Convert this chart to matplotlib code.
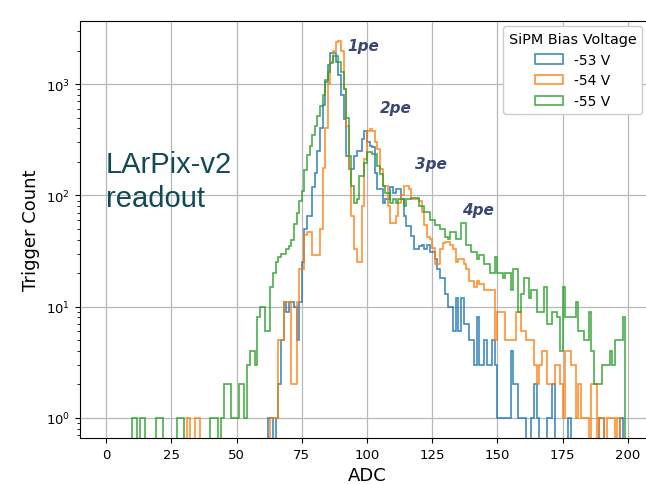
import numpy as np
import matplotlib
matplotlib.use("Agg")
import matplotlib.pyplot as plt

# bin edges: 1 ADC wide bins from 0 to 200
adc_edges = np.arange(0, 201)

# counts per ADC bin (index = ADC value)
counts_53v = [
    0, 0, 0, 0, 0, 0, 0, 0, 0, 0,
    0, 0, 0, 0, 0, 0, 0, 0, 0, 0,
    0, 0, 0, 0, 0, 0, 0, 0, 0, 0,
    0, 0, 0, 0, 0, 0, 0, 0, 0, 0,
    0, 0, 0, 0, 0, 0, 0, 0, 0, 0,
    0, 0, 0, 0, 0, 0, 0, 0, 0, 0,
    0, 0, 1, 1, 0, 1, 2, 5, 11, 9,
    11, 11, 10, 5, 11, 25, 50, 65, 65, 120,
    160, 250, 400, 650, 1050, 1500, 1900, 1900, 1600, 1200,
    800, 485, 227, 172, 172, 227, 250, 250, 320, 380,
    300, 280, 270, 160, 114, 114, 86, 93, 93, 118,
    106, 114, 114, 93, 66, 53, 53, 43, 33, 33,
    35, 36, 33, 36, 31, 31, 27, 22, 18, 18,
    13, 10, 10, 6, 12, 6, 12, 7, 7, 5,
    5, 3, 8, 3, 3, 5, 3, 3, 5, 3,
    1, 1, 1, 1, 1, 4, 2, 2, 1, 1,
    1, 0, 0, 1, 2, 1, 0, 0, 0, 1,
    1, 2, 0, 0, 0, 0, 0, 1, 0, 0,
    0, 0, 0, 0, 0, 0, 0, 0, 0, 1,
    1, 0, 0, 0, 0, 0, 0, 1, 0, 0,
]

counts_54v = [
    0, 0, 0, 0, 0, 0, 0, 0, 0, 0,
    0, 0, 0, 0, 0, 0, 0, 0, 0, 0,
    0, 0, 0, 0, 0, 0, 0, 0, 0, 0,
    0, 1, 0, 0, 1, 1, 0, 0, 0, 0,
    0, 0, 0, 0, 0, 0, 0, 0, 0, 0,
    0, 0, 0, 0, 0, 0, 0, 0, 0, 0,
    0, 0, 0, 1, 1, 1, 5, 5, 11, 11,
    11, 2, 2, 11, 22, 22, 44, 47, 47, 29,
    29, 29, 50, 175, 400, 1000, 1600, 2000, 2400, 2450,
    2000, 900, 420, 172, 66, 33, 25, 25, 81, 212,
    380, 395, 380, 300, 260, 172, 122, 122, 81, 57,
    57, 66, 86, 100, 122, 122, 114, 93, 93, 93,
    90, 71, 54, 42, 41, 34, 24, 24, 33, 37,
    38, 38, 36, 33, 25, 27, 27, 24, 22, 17,
    17, 15, 17, 16, 16, 14, 14, 14, 14, 5,
    9, 9, 9, 5, 5, 5, 5, 9, 9, 6,
    6, 5, 5, 5, 3, 2, 3, 4, 4, 2,
    2, 2, 3, 3, 2, 1, 4, 4, 3, 3,
    1, 2, 1, 1, 1, 0, 2, 2, 0, 1,
    1, 0, 1, 1, 1, 0, 1, 0, 0, 0,
]

counts_55v = [
    0, 0, 0, 0, 0, 0, 0, 0, 0, 0,
    1, 1, 0, 1, 1, 0, 0, 0, 0, 1,
    1, 1, 0, 0, 0, 0, 0, 1, 1, 1,
    0, 0, 0, 0, 0, 0, 0, 0, 0, 0,
    1, 1, 1, 0, 1, 2, 2, 2, 1, 1,
    1, 2, 2, 1, 3, 4, 4, 3, 8, 10,
    10, 6, 6, 15, 20, 25, 28, 30, 30, 33,
    35, 40, 55, 70, 90, 110, 170, 230, 280, 350,
    420, 520, 640, 800, 1100, 1300, 1550, 1800, 1800, 1600,
    1300, 900, 500, 227, 122, 86, 93, 150, 150, 197,
    244, 244, 236, 236, 183, 155, 122, 106, 106, 86,
    93, 86, 93, 93, 81, 93, 93, 95, 95, 95,
    80, 80, 71, 71, 60, 60, 54, 54, 50, 50,
    42, 41, 47, 47, 41, 41, 56, 56, 36, 36,
    31, 31, 27, 29, 29, 24, 24, 20, 20, 28,
    20, 20, 18, 20, 20, 14, 22, 22, 9, 13,
    18, 18, 12, 14, 14, 9, 9, 9, 15, 7,
    7, 9, 9, 8, 4, 15, 8, 8, 8, 8,
    11, 6, 6, 5, 5, 9, 4, 2, 2, 2,
    3, 3, 3, 4, 3, 5, 5, 5, 8, 0,
]

series_labels = ["-53 V", "-54 V", "-55 V"]
series_colors = ["tab:blue", "tab:orange", "tab:green"]

pe_labels = ["1pe", "2pe", "3pe", "4pe"]
pe_adc = [98.5, 111, 124.5, 142.6]
pe_count = [2250, 620, 192, 74]

fig = plt.figure(figsize=(6.46, 4.85), dpi=100)
# axes run a bit past the right edge, like the cropped original
ax = fig.add_axes([80 / 646, 46 / 485, 574 / 646, 417 / 485])

centers = adc_edges[:-1] + 0.5
for counts, lab, col in zip([counts_53v, counts_54v, counts_55v], series_labels, series_colors):
    ax.hist(centers, bins=adc_edges, weights=counts, histtype="step", log=True,
            color=col, linewidth=1.2, alpha=0.85, label=lab)

ax.set_xlim(-10, 210)
ax.set_ylim(0.66, 3700)
ax.set_xticks([0, 25, 50, 75, 100, 125, 150, 175, 200])
ax.grid(True, which="major", color="#b8b8b8", linewidth=0.9)
ax.set_axisbelow(True)
ax.tick_params(labelsize=9.5)
ax.set_xlabel("ADC", fontsize=13)
ax.set_ylabel("Trigger Count", fontsize=13)

for txt, x, y in zip(pe_labels, pe_adc, pe_count):
    ax.text(x, y, txt, ha="center", va="center", fontsize=11, fontweight="bold",
            fontstyle="italic", color="#3a4770")

ax.text(0, 255, "LArPix-v2\nreadout", ha="left", va="top", fontsize=21,
        family="Liberation Sans", color="#0f4a55", linespacing=1.25)

ax.legend(title="SiPM Bias Voltage", fontsize=10, title_fontsize=10.4,
          loc="upper right", bbox_to_anchor=(642 / 646, 1 - 27 / 485),
          bbox_transform=fig.transFigure, borderaxespad=0, framealpha=1)

fig.savefig("out.png", dpi=100)
